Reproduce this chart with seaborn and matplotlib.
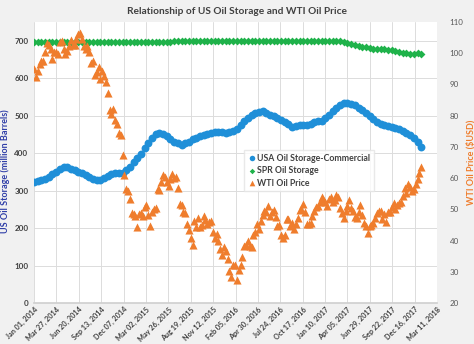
import numpy as np
import pandas as pd
import matplotlib
matplotlib.use("Agg")
import matplotlib.pyplot as plt
import seaborn as sns

# ---------------- data ----------------
title = "Relationship of US Oil Storage and WTI Oil Price"
left_label = "US Oil Storage (million Barrels)"
right_label = "WTI Oil Price ($USD)"
series_names = ["USA Oil Storage-Commercial", "SPR Oil Storage", "WTI Oil Price"]

storage_start = "2014-01-01"   # biweekly observations
commercial = [324, 326, 329, 332, 337, 344, 350, 357, 364, 362,
              358, 355, 350, 346, 341, 336, 332, 329, 327, 333,
              338, 343, 346, 347, 348, 355, 362, 376, 388, 398,
              414, 428, 440, 450, 455, 451, 446, 437, 431, 426,
              423, 426, 429, 437, 441, 445, 448, 451, 455, 457,
              457, 456, 455, 457, 459, 465, 475, 485, 493, 502,
              508, 511, 513, 508, 503, 498, 493, 488, 482, 477,
              471, 473, 476, 476, 476, 479, 483, 486, 487, 495,
              503, 512, 520, 528, 534, 534, 532, 528, 521, 514,
              507, 500, 491, 484, 478, 475, 472, 470, 468, 464,
              460, 455, 449, 440, 430, 416]
spr = [696] * 38 + [698] * 46 + [697, 694, 690, 688, 686, 684, 682, 680,
                                 679, 678, 678, 677, 676, 674, 672, 670,
                                 668, 666, 665, 665, 666, 665]

price_start = "2014-01-01"     # weekly observations
wti = [95.0, 92.3, 94.2, 96.7, 97.4, 97.4, 100.4, 103.3, 102.6, 101.5,
       98.0, 100.4, 100.3, 99.6, 103.6, 103.8, 101.4, 99.7, 100.8, 102.4,
       104.1, 102.7, 102.6, 104.4, 106.0, 106.5, 104.5, 102.3, 101.2, 102.4,
       100.3, 97.0, 97.6, 93.0, 93.9, 95.5, 91.7, 94.4, 92.8, 90.7,
       87.3, 81.8, 80.5, 82.2, 78.7, 77.2, 74.6, 73.7, 67.4, 60.9,
       56.5, 55.8, 53.3,
       48.7, 48.5, 47.8, 44.5, 48.5, 48.8, 48.0, 50.9, 51.5, 48.2,
       44.7, 49.2, 50.1, 50.4, 56.4, 56.2, 58.6, 60.9, 60.5, 58.9,
       57.5, 59.6, 61.4, 59.9, 60.3, 56.9, 51.7, 51.4, 49.2, 48.8,
       45.2, 43.3, 40.8, 38.6, 46.3, 44.2, 47.2, 44.5, 45.1, 48.0,
       46.6, 45.2, 46.0, 46.3, 42.9, 40.8, 42.0, 39.9, 37.2, 35.5,
       38.0, 36.6,
       34.0, 30.4, 28.4, 32.3, 32.3, 27.5, 30.7, 32.2, 34.7, 38.3,
       38.5, 39.8, 38.3, 37.8, 41.8, 42.6, 45.3, 43.8, 46.2, 48.2,
       49.6, 49.0, 51.2, 48.0, 49.1, 49.9, 47.4, 44.8, 44.9, 41.9,
       40.8, 41.7, 46.8, 46.8, 44.7, 45.5, 43.6, 45.3, 47.1, 49.8,
       50.2, 51.6, 49.2, 45.3, 45.3, 45.6, 48.0, 49.4, 50.8, 51.0,
       52.5, 54.1,
       53.3, 52.3, 51.1, 53.2, 53.9, 52.3, 53.1, 54.6, 53.8, 50.3,
       48.9, 47.3, 49.5, 51.2, 53.1, 50.4, 49.6, 47.7, 47.3, 49.0,
       51.4, 48.3, 45.7, 44.7, 42.5, 44.7, 45.1, 45.5, 47.1, 48.8,
       49.6, 49.6, 46.8, 48.4, 45.9, 49.2, 49.3, 50.7, 52.1, 50.0,
       51.3, 52.0, 52.2, 54.3, 56.8, 55.3, 58.0, 57.3, 56.0, 56.6,
       58.1, 59.6,
       61.6, 63.6]

x_start, x_end, tick_step_days = "2014-01-01", "2018-03-11", 85
left_ticks = [0, 100, 200, 300, 400, 500, 600, 700]
right_ticks = [20, 30, 40, 50, 60, 70, 80, 90, 100, 110]

# ---------------- frames ----------------
storage_df = pd.DataFrame({
    "date": pd.date_range(storage_start, periods=len(commercial), freq="14D"),
    "commercial": commercial,
    "spr": spr,
})
price_df = pd.DataFrame({
    "date": pd.date_range(price_start, periods=len(wti), freq="7D"),
    "wti": wti,
})

c_blue, c_green, c_orange = "#1f8fd8", "#1fb24a", "#ef7d2d"

sns.set_theme(style="whitegrid")
plt.rcParams["font.family"] = ["Lato", "DejaVu Sans"]

fig = plt.figure(figsize=(4.74, 3.44), dpi=100, facecolor="#f1f1f1")
ax = fig.add_axes([34 / 474, 1 - 303 / 344, 403 / 474, 281 / 344])
ax.set_facecolor("white")
ax2 = ax.twinx()

sns.scatterplot(data=storage_df, x="date", y="spr", ax=ax, marker="D", s=16,
                color=c_green, linewidth=0, label=series_names[1], zorder=3)
sns.scatterplot(data=storage_df, x="date", y="commercial", ax=ax, marker="o", s=32,
                color=c_blue, linewidth=0, label=series_names[0], zorder=4)
sns.scatterplot(data=price_df, x="date", y="wti", ax=ax2, marker="^", s=34,
                color=c_orange, linewidth=0, label=series_names[2], zorder=5)

ax.set_ylim(0, 750)
ax.set_yticks(left_ticks)
ax2.set_ylim(20, 110)
ax2.set_yticks(right_ticks)

xs = pd.Timestamp(x_start)
xe = pd.Timestamp(x_end)
ax.set_xlim(xs, xe)
ticks = pd.date_range(xs, xe, freq=f"{tick_step_days}D")
ax.set_xticks(ticks)
ax.set_xticklabels([t.strftime("%b %d, %Y") for t in ticks], rotation=45,
                   ha="right", rotation_mode="anchor", fontsize=5.2, fontweight="bold",
                   color="#404040")

ax.grid(True, color="#dcdcdc", linewidth=0.7)
ax2.grid(False)
for a in (ax, ax2):
    for s in a.spines.values():
        s.set_visible(False)
ax.spines["bottom"].set_visible(True)
ax.spines["bottom"].set_color("#d0d0d0")

ax.tick_params(axis="y", labelsize=5.8, colors="#404040", pad=4, length=0)
for lab in ax.get_yticklabels():
    lab.set_fontweight("bold")
ax.tick_params(axis="x", pad=2, length=0)
ax2.tick_params(axis="y", labelsize=5.8, colors="#595959", pad=9, length=0)

ax.set_xlabel("")
ax.set_ylabel(left_label, fontsize=6.5, fontweight="bold", color="#2f3ea8")
ax.yaxis.set_label_coords(-0.06, 0.47)
ax2.set_ylabel(right_label, fontsize=6.5, fontweight="bold", color=c_orange)
ax2.yaxis.set_label_coords(1.072, 0.5)

h1, l1 = ax.get_legend_handles_labels()
h2, l2 = ax2.get_legend_handles_labels()
if ax2.get_legend():
    ax2.get_legend().remove()
hmap = dict(zip(l1 + l2, h1 + h2))
leg = ax.legend([hmap[n] for n in series_names], series_names,
                loc="upper left", bbox_to_anchor=(0.51, 0.56), fontsize=6.3,
                frameon=True, facecolor="white", edgecolor="#e4e4e4",
                handletextpad=0.1, labelspacing=0.4, borderpad=0.4,
                markerscale=0.7, handlelength=1.0, fancybox=False)
for t in leg.get_texts():
    t.set_color("#404040")
    t.set_fontweight("bold")
leg.set_zorder(10)

fig.text(237 / 474, 1 - 12 / 344, title, ha="center", va="center",
         fontsize=7.3, fontweight="bold", color="#404040")

fig.savefig("out.png", dpi=100, facecolor=fig.get_facecolor())
